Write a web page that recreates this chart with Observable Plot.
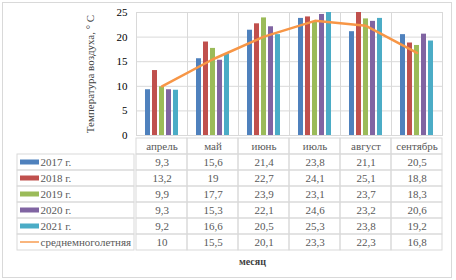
<!DOCTYPE html>
<html>
<head>
<meta charset="utf-8">
<script src="https://cdn.jsdelivr.net/npm/d3@7"></script>
<script src="https://cdn.jsdelivr.net/npm/@observablehq/plot@0.6"></script>
<style>
  html, body { margin: 0; padding: 0; background: #fff; }
  #wrap { position: relative; width: 456px; height: 280px; overflow: hidden; font-family: "Liberation Serif", serif; }
  #frame { position: absolute; left: 2px; top: 2px; width: 448px; height: 274px; border: 1px solid #d9d9d9; }
  .layer { position: absolute; left: 0; }
  #xlabel { position: absolute; left: 239px; top: 256px; font: bold 10px "Liberation Serif", serif; color: #404040; }
  svg text { font-family: "Liberation Serif", serif; }
</style>
</head>
<body>
<div id="wrap">
  <div id="frame"></div>
  <div id="bars" class="layer" style="top:0"></div>
  <div id="line" class="layer" style="top:0; pointer-events:none"></div>
  <div id="legcol" class="layer" style="top:135px"></div>
  <div id="vals" class="layer" style="top:135px"></div>
  <div id="xlabel">месяц</div>
</div>
<script>
const months = ["апрель", "май", "июнь", "июль", "август", "сентябрь"];
const seriesNames = ["2017 г.", "2018 г.", "2019 г.", "2020 г.", "2021 г."];
const avgName = "среднемноголетняя";
const v2017 = [9.3, 15.6, 21.4, 23.8, 21.1, 20.5];
const v2018 = [13.2, 19, 22.7, 24.1, 25.1, 18.8];
const v2019 = [9.9, 17.7, 23.9, 23.1, 23.7, 18.3];
const v2020 = [9.3, 15.3, 22.1, 24.6, 23.2, 20.6];
const v2021 = [9.2, 16.6, 20.5, 25.3, 23.8, 19.2];
const vAvg = [10, 15.5, 20.1, 23.3, 22.3, 16.8];
const yTicks = [0, 5, 10, 15, 20, 25];
const yLabel = "Температура воздуха, ° C";
const colors = ["#4F81BD", "#C0504D", "#9BBB59", "#8064A2", "#4BACC6", "#F79646"];

const seriesValues = [v2017, v2018, v2019, v2020, v2021];
const bars = [];
seriesNames.forEach((s, i) => months.forEach((m, j) => bars.push({series: s, month: m, value: seriesValues[i][j]})));
const avg = months.map((m, j) => ({series: avgName, month: m, value: vAvg[j]}));
const allRows = [...seriesNames, avgName];
const tableData = [...bars, ...avg];
const rowDomain = ["", ...allRows];
const colorScale = {domain: allRows, range: colors};
const fmt = v => String(v).replace(".", ",");
const font = "font-family: 'Liberation Serif', serif; font-size: 11px; background: transparent; overflow: visible;";
const grid = "#d9d9d9";
const textGray = "#595959";

// Bars chart
const barsPlot = Plot.plot({
  width: 456, height: 140,
  marginLeft: 134, marginRight: 12, marginTop: 12, marginBottom: 5,
  style: font,
  fx: {domain: months, padding: 0, axis: null},
  x: {domain: seriesNames, paddingInner: 0.25, paddingOuter: 0.82, axis: null},
  y: {domain: [0, 25], ticks: yTicks, tickSize: 0, tickPadding: 9, label: null, color: textGray},
  color: colorScale,
  marks: [
    Plot.gridY(yTicks, {stroke: grid, strokeOpacity: 1}),
    Plot.frame({stroke: grid}),
    Plot.barY(bars, {fx: "month", x: "series", y: "value", fill: "series", clip: true})
  ]
});
document.getElementById("bars").appendChild(barsPlot);

// Average line overlay (+ y axis title)
const linePlot = Plot.plot({
  width: 456, height: 140,
  marginLeft: 134, marginRight: 12, marginTop: 12, marginBottom: 5,
  style: font,
  x: {type: "band", domain: months, padding: 0, axis: null},
  y: {domain: [0, 25], axis: null},
  color: colorScale,
  marks: [
    Plot.line(avg, {x: "month", y: "value", stroke: "series", strokeWidth: 2.5}),
    Plot.text([yLabel], {text: d => d, frameAnchor: "left", rotate: -90, dx: -44, textAnchor: "middle", lineAnchor: "middle", fill: "#404040"})
  ]
});
document.getElementById("line").appendChild(linePlot);

// Legend column of the data table
const legPlot = Plot.plot({
  width: 135, height: 117,
  marginLeft: 17, marginRight: 1, marginTop: 0, marginBottom: 0,
  style: font,
  x: {type: "band", domain: ["k"], padding: 0, axis: null},
  y: {type: "band", domain: rowDomain, padding: 0, axis: null},
  color: colorScale,
  marks: [
    Plot.cell(allRows, {x: () => "k", y: d => d, stroke: grid, fill: "none"}),
    Plot.cell(seriesNames, {x: () => "k", y: d => d, fill: d => d, insetLeft: 3, insetRight: 95, insetTop: 5.5, insetBottom: 5.5}),
    Plot.cell([avgName], {x: () => "k", y: d => d, fill: d => d, insetLeft: 3, insetRight: 95, insetTop: 7.3, insetBottom: 7.3}),
    Plot.text(allRows, {y: d => d, text: d => d, frameAnchor: "left", dx: 23, textAnchor: "start", fill: textGray})
  ]
});
document.getElementById("legcol").appendChild(legPlot);

// Values part of the data table
const valPlot = Plot.plot({
  width: 456, height: 117,
  marginLeft: 134, marginRight: 12, marginTop: 0, marginBottom: 0,
  style: font,
  x: {type: "band", domain: months, padding: 0, axis: null},
  y: {type: "band", domain: rowDomain, padding: 0, axis: null},
  marks: [
    Plot.cell(tableData, {x: "month", y: "series", stroke: grid, fill: "none"}),
    Plot.cell(months, {x: d => d, y: () => "", stroke: grid, fill: "none"}),
    Plot.text(months, {x: d => d, y: () => "", text: d => d, fill: textGray}),
    Plot.text(tableData, {x: "month", y: "series", text: d => fmt(d.value), fill: textGray})
  ]
});
document.getElementById("vals").appendChild(valPlot);
</script>
</body>
</html>
